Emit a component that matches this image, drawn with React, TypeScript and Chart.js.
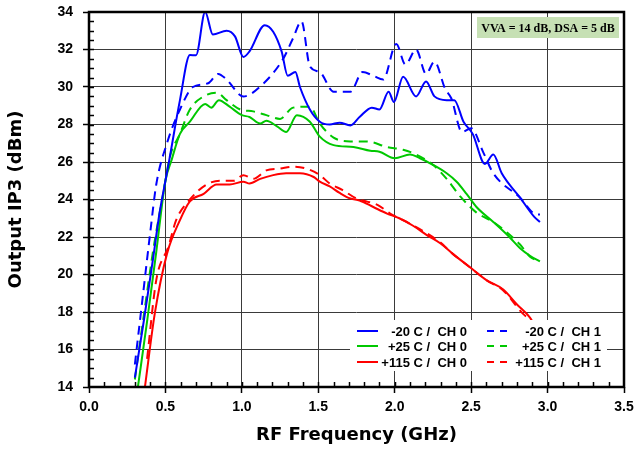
import React, { useEffect, useRef } from 'react';
import { Chart, registerables } from 'chart.js';

Chart.register(...registerables);

// ---- Data ----
const seriesLabels = ['-20 C /  CH 0', '-20 C /  CH 1', '+25 C /  CH 0', '+25 C /  CH 1', '+115 C /  CH 0', '+115 C /  CH 1'];
const seriesColors = ['#0000ff', '#0000ff', '#00c800', '#00c800', '#ff0000', '#ff0000'];
const seriesDashed = [false, true, false, true, false, true];

const blue0F = [0.30, 0.36, 0.42, 0.46, 0.50, 0.525, 0.595, 0.66, 0.70, 0.76, 0.81, 0.90, 0.955, 1.01, 1.05, 1.15, 1.205, 1.26, 1.30, 1.35, 1.38, 1.445, 1.51, 1.575, 1.64, 1.71, 1.77, 1.85, 1.90, 1.96, 1.995, 2.055, 2.14, 2.205, 2.26, 2.34, 2.39, 2.45, 2.51, 2.59, 2.645, 2.70, 2.82, 2.91, 2.95];
const blue0V = [14.5, 17.6, 20.9, 23.2, 25.0, 26.1, 29.3, 31.7, 31.7, 34.0, 32.8, 33.0, 32.7, 31.6, 31.9, 33.3, 32.95, 31.9, 30.6, 30.8, 30.0, 28.8, 28.15, 28.0, 28.1, 27.95, 28.4, 28.9, 28.8, 29.75, 29.2, 30.55, 29.5, 30.3, 29.5, 29.3, 29.3, 28.15, 27.5, 25.9, 26.4, 25.4, 24.1, 23.1, 22.8];

const blue1F = [0.30, 0.35, 0.40, 0.44, 0.51, 0.595, 0.68, 0.78, 0.845, 0.90, 1.01, 1.13, 1.27, 1.335, 1.39, 1.445, 1.51, 1.60, 1.71, 1.79, 1.86, 1.925, 2.01, 2.07, 2.14, 2.205, 2.26, 2.33, 2.37, 2.44, 2.50, 2.58, 2.645, 2.82, 2.93, 2.95];
const blue1V = [15.2, 18.7, 22.2, 24.8, 27.0, 28.8, 30.0, 30.2, 30.7, 30.4, 29.5, 30.1, 31.5, 32.6, 33.5, 31.1, 30.8, 29.75, 29.75, 30.8, 30.6, 30.4, 32.3, 31.2, 32.0, 30.7, 31.35, 29.9, 29.4, 27.6, 27.8, 26.5, 25.4, 24.1, 23.2, 23.2];

const green0F = [0.32, 0.38, 0.44, 0.50, 0.54, 0.595, 0.66, 0.76, 0.80, 0.85, 0.92, 1.00, 1.05, 1.12, 1.16, 1.23, 1.29, 1.36, 1.445, 1.51, 1.60, 1.73, 1.84, 1.90, 2.00, 2.10, 2.165, 2.25, 2.34, 2.405, 2.47, 2.535, 2.645, 2.75, 2.82, 2.885, 2.95];
const green0V = [14.0, 17.5, 21.2, 25.0, 26.1, 27.5, 28.15, 29.1, 28.9, 29.3, 28.95, 28.5, 28.4, 28.05, 28.2, 27.9, 27.6, 28.5, 28.15, 27.35, 26.9, 26.8, 26.6, 26.55, 26.2, 26.4, 26.2, 25.85, 25.4, 24.95, 24.3, 23.6, 22.8, 22.0, 21.4, 21.0, 20.7];

const green1F = [0.30, 0.36, 0.42, 0.485, 0.53, 0.595, 0.66, 0.75, 0.835, 0.90, 0.99, 1.075, 1.16, 1.25, 1.335, 1.445, 1.51, 1.60, 1.71, 1.815, 1.95, 2.055, 2.14, 2.25, 2.34, 2.43, 2.535, 2.645, 2.82, 2.885, 2.95];
const green1V = [14.4, 17.9, 21.3, 24.3, 26.3, 27.5, 28.8, 29.5, 29.7, 29.3, 28.8, 28.7, 28.5, 28.3, 28.9, 28.95, 28.05, 27.3, 27.1, 27.1, 26.8, 26.65, 26.4, 25.85, 25.1, 24.15, 23.3, 22.8, 21.6, 20.95, 20.7];

const red0F = [0.366, 0.43, 0.51, 0.595, 0.66, 0.75, 0.835, 0.92, 1.01, 1.05, 1.12, 1.205, 1.29, 1.38, 1.47, 1.51, 1.575, 1.64, 1.71, 1.77, 1.86, 1.95, 2.03, 2.12, 2.21, 2.30, 2.38, 2.49, 2.60, 2.71, 2.80, 2.885, 2.90];
const red0V = [14.0, 17.9, 21.1, 22.9, 23.9, 24.3, 24.8, 24.8, 24.95, 24.85, 25.1, 25.3, 25.4, 25.4, 25.2, 24.95, 24.7, 24.35, 24.05, 23.95, 23.6, 23.25, 23.0, 22.6, 22.1, 21.65, 21.1, 20.4, 19.7, 19.2, 18.4, 17.7, 17.5];

const red1F = [0.38, 0.44, 0.52, 0.57, 0.66, 0.77, 0.855, 0.945, 1.01, 1.075, 1.16, 1.25, 1.335, 1.42, 1.51, 1.575, 1.66, 1.75, 1.815, 1.89, 1.97, 2.055, 2.21, 2.30, 2.38, 2.49, 2.60, 2.71, 2.84, 2.90];
const red1V = [15.5, 19.7, 21.5, 22.9, 24.0, 24.8, 25.0, 25.0, 25.3, 25.1, 25.55, 25.65, 25.75, 25.65, 25.3, 24.85, 24.5, 24.05, 23.9, 23.7, 23.25, 22.9, 22.2, 21.7, 21.1, 20.4, 19.7, 19.15, 17.9, 17.5];

const seriesFreqs = [blue0F, blue1F, green0F, green1F, red0F, red1F];
const seriesValues = [blue0V, blue1V, green0V, green1V, red0V, red1V];

const xMin = 0, xMax = 3.5, xStep = 0.5, xMinorStep = 0.1;
const yMin = 14, yMax = 34, yStep = 2, yMinorStep = 0.5;
const xTitle = 'RF Frequency (GHz)';
const yTitle = 'Output IP3 (dBm)';
const noteText = 'VVA = 14 dB, DSA = 5 dB';

const TICK_FONT = { family: "'Liberation Sans', Arial, sans-serif", size: 14, weight: 'bold' as const };
const TITLE_FONT = { family: "'DejaVu Sans', Verdana, sans-serif", size: 18, weight: 'bold' as const };

const decorPlugin = {
  id: 'decor',
  afterDraw(chart: any) {
    const { ctx, chartArea: a, scales } = chart;
    const x = scales.x, y = scales.y;
    ctx.save();
    // minor ticks
    ctx.strokeStyle = '#000';
    ctx.lineWidth = 1.5;
    ctx.beginPath();
    const nx = Math.round((xMax - xMin) / xMinorStep);
    for (let i = 1; i < nx; i++) {
      const v = xMin + i * xMinorStep;
      const px = Math.round(x.getPixelForValue(v)) + 0.5;
      ctx.moveTo(px, a.bottom);
      ctx.lineTo(px, a.bottom - 5);
    }
    const ny = Math.round((yMax - yMin) / yMinorStep);
    for (let i = 1; i < ny; i++) {
      const v = yMin + i * yMinorStep;
      const py = Math.round(y.getPixelForValue(v)) + 0.5;
      ctx.moveTo(a.left, py);
      ctx.lineTo(a.left + 5, py);
    }
    ctx.stroke();
    // frame
    ctx.lineWidth = 2.5;
    ctx.strokeRect(a.left, a.top, a.right - a.left, a.bottom - a.top);

    // annotation box
    const bw = 142, bh = 21;
    const bx = a.right - bw - 5, by = a.top + 5;
    ctx.fillStyle = '#c6e0b4';
    ctx.fillRect(bx, by, bw, bh);
    ctx.fillStyle = '#000';
    ctx.font = "bold 12px 'Liberation Serif', 'Times New Roman', serif";
    ctx.textAlign = 'center';
    ctx.textBaseline = 'middle';
    ctx.fillText(noteText, bx + bw / 2, by + bh / 2 + 1);

    // legend
    const lx0 = a.left + 261, lx1 = a.right - 17;
    const ly0 = a.bottom - 67, ly1 = a.bottom - 16;
    ctx.fillStyle = '#fff';
    ctx.fillRect(lx0, ly0, lx1 - lx0, ly1 - ly0);
    ctx.font = "bold 13px 'Liberation Sans', Arial, sans-serif";
    ctx.textAlign = 'right';
    ctx.textBaseline = 'middle';
    const rows = [ly0 + 11, ly0 + 26, ly0 + 42];
    for (let i = 0; i < seriesLabels.length; i++) {
      const col = i % 2, row = Math.floor(i / 2);
      const yy = rows[row];
      const sx0 = col === 0 ? lx0 + 7 : lx0 + 137;
      const sx1 = col === 0 ? lx0 + 28 : lx0 + 157;
      const tx = col === 0 ? lx0 + 117 : lx0 + 251;
      ctx.strokeStyle = seriesColors[i];
      ctx.lineWidth = 2;
      ctx.setLineDash(seriesDashed[i] ? [7, 6] : []);
      ctx.beginPath();
      ctx.moveTo(sx0, yy);
      ctx.lineTo(sx1, yy);
      ctx.stroke();
      ctx.setLineDash([]);
      ctx.fillStyle = '#000';
      ctx.fillText(seriesLabels[i], tx, yy + 1);
    }
    ctx.restore();
  },
};

export default function App() {
  const ref = useRef<HTMLCanvasElement | null>(null);
  useEffect(() => {
    if (!ref.current) return;
    const datasets = seriesLabels.map((label, i) => ({
      label,
      data: seriesFreqs[i].map((f, j) => ({ x: f, y: seriesValues[i][j] })),
      borderColor: seriesColors[i],
      backgroundColor: seriesColors[i],
      borderWidth: 2,
      borderDash: seriesDashed[i] ? [9, 6] : [],
      pointRadius: 0,
      fill: false,
      cubicInterpolationMode: 'monotone' as const,
    }));
    const chart = new Chart(ref.current, {
      type: 'line',
      data: { datasets },
      options: {
        animation: false,
        responsive: false,
        maintainAspectRatio: false,
        layout: { padding: { top: 12, right: 13, left: 0, bottom: 0 } },
        plugins: { legend: { display: false }, tooltip: { enabled: false } },
        scales: {
          x: {
            type: 'linear',
            min: xMin,
            max: xMax,
            ticks: {
              stepSize: xStep,
              color: '#000',
              font: TICK_FONT,
              padding: 6,
              maxRotation: 0,
              callback: (v: any) => Number(v).toFixed(1),
            },
            grid: { color: '#3a3a3a', lineWidth: 1, tickLength: 6, tickColor: '#000', tickWidth: 1.5 },
            border: { display: false },
            title: { display: true, text: xTitle, color: '#000', font: TITLE_FONT, padding: { top: 0, bottom: 3 } },
            afterFit: (s: any) => { s.height = 62; s.paddingLeft = 0; s.paddingRight = 0; },
          },
          y: {
            type: 'linear',
            min: yMin,
            max: yMax,
            ticks: { stepSize: yStep, color: '#000', font: TICK_FONT, padding: 10 },
            grid: { color: '#3a3a3a', lineWidth: 1, tickLength: 6, tickColor: '#000', tickWidth: 1.5 },
            border: { display: false },
            title: { display: true, text: yTitle, color: '#000', font: TITLE_FONT, padding: { top: 6, bottom: 0 } },
            afterFit: (s: any) => { s.width = 89; s.paddingTop = 0; s.paddingBottom = 0; },
          },
        },
      },
      plugins: [decorPlugin],
    });
    return () => chart.destroy();
  }, []);
  return (
    <div style={{ position: 'fixed', left: 0, top: 0, width: 637, height: 449, background: '#fff' }}>
      <canvas ref={ref} width={637} height={449} style={{ width: 637, height: 449 }} />
    </div>
  );
}
